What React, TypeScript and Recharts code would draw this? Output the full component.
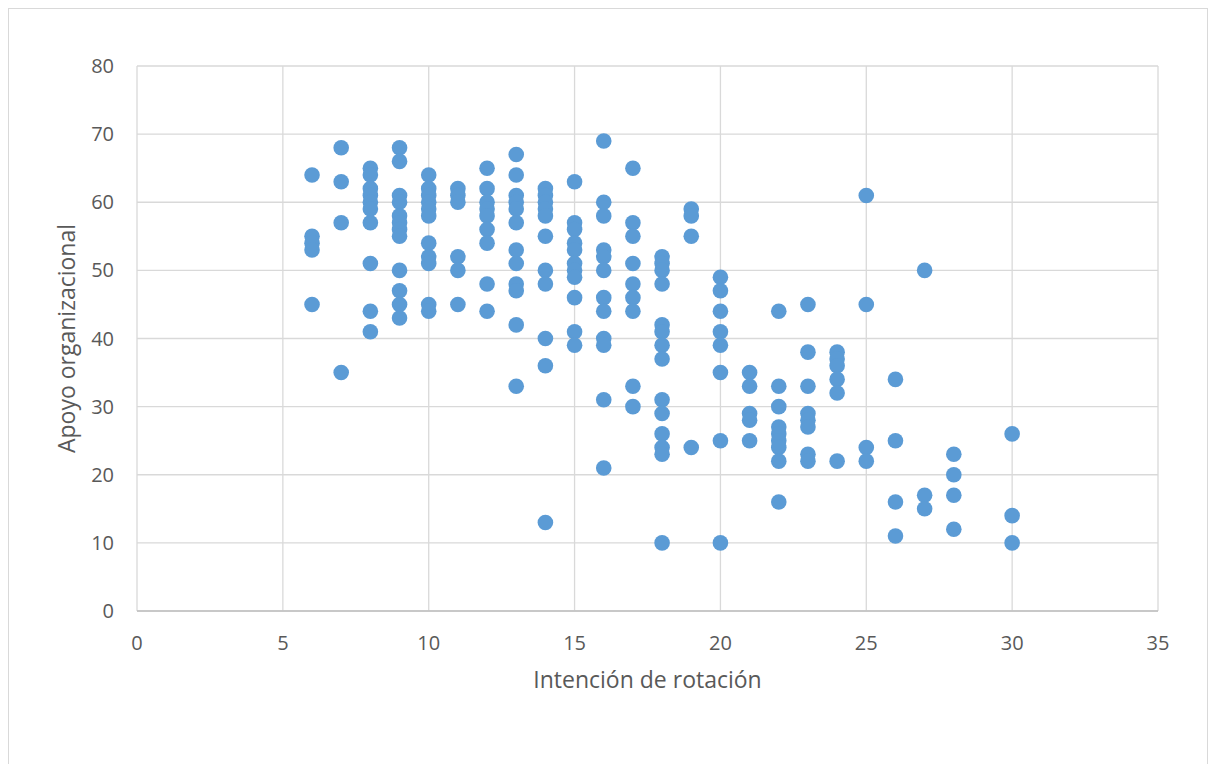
import React from 'react';
import { ScatterChart, Scatter, XAxis, YAxis, CartesianGrid } from 'recharts';

const intencion: number[] = [
  6, 6, 6, 6, 6,
  7, 7, 7, 7,
  8, 8, 8, 8, 8, 8, 8, 8, 8, 8,
  9, 9, 9, 9, 9, 9, 9, 9, 9, 9, 9, 9,
  10, 10, 10, 10, 10, 10, 10, 10, 10, 10, 10,
  11, 11, 11, 11, 11, 11,
  12, 12, 12, 12, 12, 12, 12, 12, 12,
  13, 13, 13, 13, 13, 13, 13, 13, 13, 13, 13, 13,
  14, 14, 14, 14, 14, 14, 14, 14, 14, 14, 14,
  15, 15, 15, 15, 15, 15, 15, 15, 15, 15, 15,
  16, 16, 16, 16, 16, 16, 16, 16, 16, 16, 16, 16,
  17, 17, 17, 17, 17, 17, 17, 17, 17,
  18, 18, 18, 18, 18, 18, 18, 18, 18, 18, 18, 18, 18, 18,
  19, 19, 19, 19,
  20, 20, 20, 20, 20, 20, 20, 20,
  21, 21, 21, 21, 21,
  22, 22, 22, 22, 22, 22, 22, 22, 22,
  23, 23, 23, 23, 23, 23, 23, 23,
  24, 24, 24, 24, 24, 24,
  25, 25, 25, 25,
  26, 26, 26, 26,
  27, 27, 27,
  28, 28, 28, 28,
  30, 30, 30,
];

const apoyo: number[] = [
  64, 55, 54, 53, 45,
  68, 63, 57, 35,
  65, 64, 62, 61, 60, 59, 57, 51, 44, 41,
  68, 66, 61, 60, 58, 57, 56, 55, 50, 47, 45, 43,
  64, 62, 61, 60, 59, 58, 54, 52, 51, 45, 44,
  62, 61, 60, 52, 50, 45,
  65, 62, 60, 59, 58, 56, 54, 48, 44,
  67, 64, 61, 60, 59, 57, 53, 51, 48, 47, 42, 33,
  62, 61, 60, 59, 58, 55, 50, 48, 40, 36, 13,
  63, 57, 56, 54, 53, 51, 50, 49, 46, 41, 39,
  69, 60, 58, 53, 52, 50, 46, 44, 40, 39, 31, 21,
  65, 57, 55, 51, 48, 46, 44, 33, 30,
  52, 51, 50, 48, 42, 41, 39, 37, 31, 29, 26, 24, 23, 10,
  59, 58, 55, 24,
  49, 47, 44, 41, 39, 35, 25, 10,
  35, 33, 29, 28, 25,
  44, 33, 30, 27, 26, 25, 24, 22, 16,
  45, 38, 33, 29, 28, 27, 23, 22,
  38, 37, 36, 34, 32, 22,
  61, 45, 24, 22,
  34, 25, 16, 11,
  50, 17, 15,
  23, 20, 17, 12,
  26, 14, 10,
];

const xTicks: number[] = [0, 5, 10, 15, 20, 25, 30, 35];
const yTicks: number[] = [0, 10, 20, 30, 40, 50, 60, 70, 80];

const xTitle = 'Intención de rotación';
const yTitle = 'Apoyo organizacional';

const data = intencion.map((x, i) => ({ x, y: apoyo[i] }));

const FONT = '"Open Sans", sans-serif';
const TEXT = '#595959';

const Dot = (props: any) => {
  const { cx, cy } = props;
  return <circle cx={cx} cy={cy} r={7.8} fill="#5B9BD5" />;
};

export default function App() {
  return (
    <div
      style={{
        width: 1200,
        height: 756,
        boxSizing: 'border-box',
        borderTop: '1px solid #D9D9D9',
        borderLeft: '1px solid #D9D9D9',
        borderRight: '1px solid #D9D9D9',
        background: '#fff',
      }}
    >
      <ScatterChart
        width={1198}
        height={755}
        margin={{ top: 57, right: 49, left: 19, bottom: 73 }}
      >
        <CartesianGrid stroke="#D9D9D9" strokeWidth={1.3} />
        <XAxis
          type="number"
          dataKey="x"
          domain={[0, 35]}
          ticks={xTicks}
          allowDataOverflow
          height={80}
          tickLine={false}
          tickSize={0}
          tickMargin={25}
          axisLine={{ stroke: '#BFBFBF', strokeWidth: 1.3 }}
          tick={{ fill: TEXT, fontSize: 20, fontFamily: FONT }}
          label={{
            value: xTitle,
            position: 'insideBottom',
            offset: 3,
            fill: TEXT,
            fontSize: 23,
            fontFamily: FONT,
          }}
        />
        <YAxis
          type="number"
          dataKey="y"
          domain={[0, 80]}
          ticks={yTicks}
          allowDataOverflow
          width={109}
          tickLine={false}
          tickSize={0}
          tickMargin={23}
          axisLine={false}
          tick={{ fill: TEXT, fontSize: 20, fontFamily: FONT }}
          label={{
            value: yTitle,
            angle: -90,
            position: 'insideLeft',
            offset: 39,
            fill: TEXT,
            fontSize: 23,
            fontFamily: FONT,
            style: { textAnchor: 'middle' },
          }}
        />
        <Scatter data={data} shape={<Dot />} isAnimationActive={false} />
      </ScatterChart>
    </div>
  );
}
